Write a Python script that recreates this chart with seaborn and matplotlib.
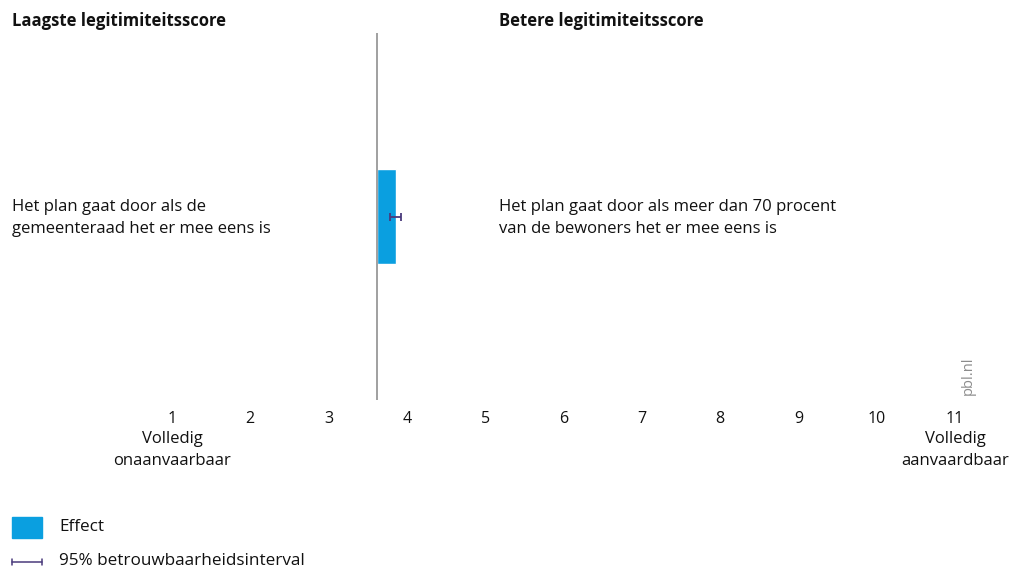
import matplotlib
matplotlib.use("Agg")
import matplotlib.pyplot as plt
import pandas as pd
import seaborn as sns

# data
statements = ["Het plan gaat door als de\ngemeenteraad het er mee eens is"]
alternative = "Het plan gaat door als meer dan 70 procent\nvan de bewoners het er mee eens is"
baseline = [3.62]
effect = [0.24]
ci_low = [3.78]
ci_high = [3.92]
ticks = list(range(1, 12))

BLUE = "#0a9fe0"
PURPLE = "#4a3a7c"
INK = "#111111"

sns.set_theme(style="white")
plt.rcParams["font.family"] = ["Open Sans", "DejaVu Sans"]
plt.rcParams["text.color"] = INK
plt.rcParams["xtick.color"] = INK

fig = plt.figure(figsize=(10.12, 5.72), dpi=100)
W, H = 1012, 572
x1, x11 = 172, 955
ax = fig.add_axes([x1 / W, 1 - 400 / H, (x11 - x1) / W, (400 - 33) / H])

df = pd.DataFrame({"statement": statements, "effect": effect})
sns.barplot(data=df, x="effect", y="statement", orient="y", color=BLUE,
            saturation=1, width=1.0, left=baseline[0], ax=ax, zorder=2)
mid = (ci_low[0] + ci_high[0]) / 2
ax.errorbar([mid], [0], xerr=[[mid - ci_low[0]], [ci_high[0] - mid]], fmt="none",
            ecolor=PURPLE, elinewidth=1.3, capsize=3, capthick=1.3, zorder=3)
ax.axvline(baseline[0], color="#a0a0a0", lw=1.4, zorder=4)

ax.set_xlim(1, 11)
ax.set_ylim(1.95, -1.95)
ax.set_xticks(ticks)
ax.set_xticklabels([str(t) for t in ticks], fontsize=11.5)
ax.tick_params(axis="x", length=0, pad=8)
ax.set_yticks([])
ax.set_xlabel("")
ax.set_ylabel("")
sns.despine(ax=ax, left=True, bottom=True)

def fx(px):
    return px / W

def fy(py):
    return 1 - py / H

fig.text(fx(12), fy(21), "Laagste legitimiteitsscore", fontsize=12, fontweight="bold",
         va="center", ha="left")
fig.text(fx(499), fy(21), "Betere legitimiteitsscore", fontsize=12, fontweight="bold",
         va="center", ha="left")
fig.text(fx(12), fy(218), statements[0], fontsize=12, va="center", ha="left",
         linespacing=1.5)
fig.text(fx(499), fy(218), alternative, fontsize=12, va="center", ha="left",
         linespacing=1.5)
fig.text(fx(x1), fy(450), "Volledig\nonaanvaarbaar", fontsize=12, va="center",
         ha="center", linespacing=1.5)
fig.text(fx(x11), fy(450), "Volledig\naanvaardbaar", fontsize=12, va="center",
         ha="center", linespacing=1.5)
fig.text(fx(968), fy(376), "pbl.nl", fontsize=10.5, color="#8c8c8c", rotation=90,
         va="center", ha="center")

# legend
fig.patches.append(plt.Rectangle((fx(12), fy(538)), 30 / W, 21 / H, color=BLUE,
                                 transform=fig.transFigure, figure=fig))
fig.text(fx(59), fy(527), "Effect", fontsize=12.3, va="center", ha="left")
fig.add_artist(plt.Line2D([fx(12), fx(42)], [fy(562), fy(562)], color=PURPLE, lw=1.1,
                          transform=fig.transFigure))
for px in (12, 42):
    fig.add_artist(plt.Line2D([fx(px), fx(px)], [fy(559), fy(565)], color=PURPLE, lw=1.1,
                              transform=fig.transFigure))
fig.text(fx(59), fy(561), "95% betrouwbaarheidsinterval", fontsize=12.3, va="center",
         ha="left")

fig.savefig("out.png", dpi=100)
